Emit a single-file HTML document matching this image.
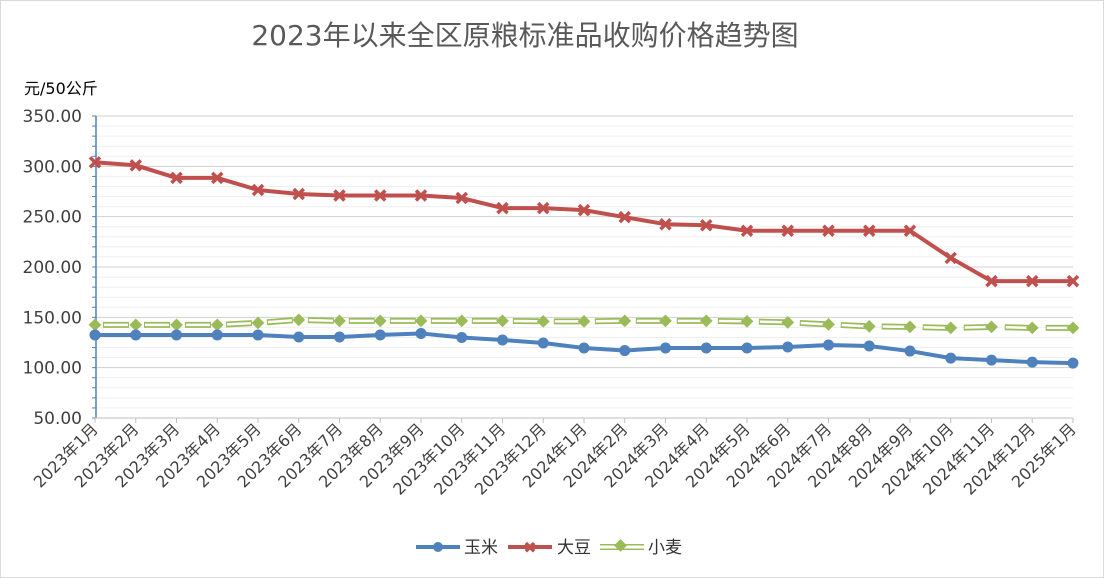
<!DOCTYPE html>
<html><head><meta charset="utf-8"><style>
body{margin:0;background:#fff;}
svg{display:block;font-family:"DejaVu Sans","Noto Sans CJK SC",sans-serif;}
</style></head><body>
<svg id="chart" width="1104" height="578">
<rect x="0.5" y="0.5" width="1103" height="577" fill="#fff" stroke="#d9d9d9"/>
<text x="525" y="45" text-anchor="middle" font-size="28" fill="#595959">2023年以来全区原粮标准品收购价格趋势图</text>
<text x="24" y="94" font-size="16" fill="#000">元/50公斤</text>
<g id="grid"></g><g id="axes"></g><g id="series"></g>
<g font-size="17" fill="#333">
<g><line x1="416" y1="547" x2="460" y2="547" stroke="#4f81bd" stroke-width="4"/><circle cx="438" cy="547" r="5" fill="#4f81bd"/><text x="464" y="553">玉米</text></g>
<g><line x1="508" y1="547" x2="552" y2="547" stroke="#c0504d" stroke-width="4"/><text x="530" y="553" text-anchor="middle" font-size="16" fill="#c0504d" font-weight="bold">✖</text><text x="557" y="553">大豆</text></g>
<g><line x1="600" y1="547" x2="644" y2="547" stroke="#9bbb59" stroke-width="6"/><line x1="600" y1="547" x2="644" y2="547" stroke="#fff" stroke-width="3"/><rect x="616" y="541" width="9" height="9" fill="#9bbb59" transform="rotate(45 620.5 545.5)"/><text x="648" y="553">小麦</text></g>
</g>
</svg>
<script>
const categories=["2023年1月","2023年2月","2023年3月","2023年4月","2023年5月","2023年6月","2023年7月","2023年8月","2023年9月","2023年10月","2023年11月","2023年12月","2024年1月","2024年2月","2024年3月","2024年4月","2024年5月","2024年6月","2024年7月","2024年8月","2024年9月","2024年10月","2024年11月","2024年12月","2025年1月"];
const corn=[132.5,132.5,132.5,132.5,132.5,130.5,130.5,132.5,134,130,127.5,124.5,119.5,117,119.5,119.5,119.5,120.5,122.5,121.5,116.5,109.5,107.5,105.5,104.5];
const soybean=[304,301,288.5,288.5,276.5,272.5,271,271,271,268.5,258.5,258.5,256.5,249.5,242.5,241.5,236,236,236,236,236,209,186,186,186];
const wheat=[142.5,142.5,142.5,142.5,144.5,147.5,146.5,146.5,146.5,146.5,146.5,146,146,146.5,146.5,146.5,146,145,143,141,140.5,139.5,140.5,139.5,139.5];
const yTicks=["50.00","100.00","150.00","200.00","250.00","300.00","350.00"];
const NS="http://www.w3.org/2000/svg";
const x0=95,x1=1073,yTop=116,yBot=418,vMin=50,vMax=350;
const X=i=>x0+i*(x1-x0)/(categories.length-1);
const Y=v=>yBot-(v-vMin)/(vMax-vMin)*(yBot-yTop);
function mk(tag,attrs,parent){const e=document.createElementNS(NS,tag);for(const k in attrs)e.setAttribute(k,attrs[k]);parent.appendChild(e);return e;}
const grid=document.getElementById('grid'),axes=document.getElementById('axes'),ser=document.getElementById('series');
for(let v=vMin;v<=vMax;v+=10){const l=mk('line',{x1:x0,x2:x1,y1:Y(v),y2:Y(v),stroke:v%50===0?'#d0d0d0':'#efefef','stroke-width':1},grid);


const t=mk('line',{x1:x0-3,x2:x0+1,y1:Y(v),y2:Y(v),stroke:'#4f81bd'},axes);

}
yTicks.forEach(s=>{const t=mk('text',{x:x0-13,y:Y(parseFloat(s))+6,'text-anchor':'end','font-size':17,fill:'#404040'},axes);t.textContent=s;

});
const ya=mk('line',{x1:x0+1,x2:x0+1,y1:yTop,y2:yBot,stroke:'#4f81bd','stroke-width':1.5},axes);


const xa=mk('line',{x1:x0,x2:x1,y1:yBot,y2:yBot,stroke:'#bfbfbf'},axes);


categories.forEach((c,i)=>{const tk=mk('line',{x1:X(i),x2:X(i),y1:yBot,y2:yBot+5,stroke:'#bfbfbf'},axes);


const t=mk('text',{x:X(i)+4,y:yBot+12,'text-anchor':'end','font-size':16,fill:'#404040',transform:`rotate(-45 ${X(i)+4} ${yBot+12})`},axes);t.textContent=c;

});
const pts=a=>a.map((v,i)=>X(i)+','+Y(v)).join(' ');
let g=mk('g',{},ser);


mk('polyline',{points:pts(wheat),fill:'none',stroke:'#9bbb59','stroke-width':6,'stroke-dasharray':'26 15','stroke-dashoffset':'-8'},g);
mk('polyline',{points:pts(wheat),fill:'none',stroke:'#fff','stroke-width':2.5,'stroke-dasharray':'24 17','stroke-dashoffset':'-9'},g);
wheat.forEach((v,i)=>{const r=mk('rect',{x:X(i)-4.5,y:Y(v)-4.5,width:9,height:9,fill:'#9bbb59',transform:`rotate(45 ${X(i)} ${Y(v)})`},g);

});
g=mk('g',{},ser);


mk('polyline',{points:pts(corn),fill:'none',stroke:'#4f81bd','stroke-width':4,'stroke-linejoin':'round'},g);
corn.forEach((v,i)=>{const c=mk('circle',{cx:X(i),cy:Y(v),r:5.5,fill:'#4f81bd'},g);

});
g=mk('g',{},ser);


mk('polyline',{points:pts(soybean),fill:'none',stroke:'#c0504d','stroke-width':4,'stroke-linejoin':'round'},g);
soybean.forEach((v,i)=>{const p=mk('path',{d:`M${X(i)-5},${Y(v)-5}L${X(i)+5},${Y(v)+5}M${X(i)+5},${Y(v)-5}L${X(i)-5},${Y(v)+5}`,stroke:'#c0504d','stroke-width':3.5},g);

});
</script>
</body></html>
